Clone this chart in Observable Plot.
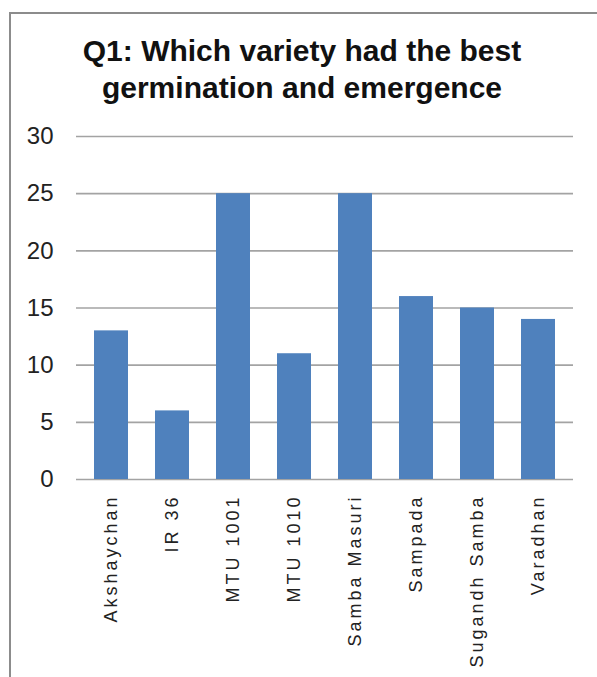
<!DOCTYPE html>
<html><head><meta charset="utf-8">
<script src="https://cdn.jsdelivr.net/npm/d3@7"></script>
<script src="https://cdn.jsdelivr.net/npm/@observablehq/plot@0.6"></script>
<style>
body{margin:0;background:#fff;font-family:"Liberation Sans",Arial,sans-serif;}
#wrap{position:relative;width:597px;height:677px;overflow:hidden;background:#fff;}
#frame{position:absolute;left:9px;top:12px;width:700px;height:800px;border:2px solid #8c8c8c;box-sizing:border-box;}
#title{position:absolute;left:0;width:604px;top:32px;text-align:center;font-weight:bold;font-size:30px;line-height:37px;color:#111;}
#chart{position:absolute;left:0;top:0;}
g[aria-label="x-axis tick label"] text{letter-spacing:3px;}
</style></head>
<body><div id="wrap"><div id="frame"></div><div id="title">Q1: Which variety had the best<br>germination and emergence</div><div id="chart"></div></div>
<script>
const varieties = ["Akshaychan","IR 36","MTU 1001","MTU 1010","Samba Masuri","Sampada","Sugandh Samba","Varadhan"];
const counts = [13, 6, 25, 11, 25, 16, 15, 14];
const yTicks = [0, 5, 10, 15, 20, 25, 30];
const data = varieties.map((v, i) => ({variety: v, count: counts[i]}));
const chart = Plot.plot({
  width: 597, height: 677,
  marginLeft: 76, marginRight: 24, marginTop: 136, marginBottom: 198,
  style: {background: "transparent", fontFamily: "'Liberation Sans', Arial, sans-serif", overflow: "visible"},
  x: {domain: varieties, paddingInner: 0.44, paddingOuter: 0.25, label: null},
  y: {domain: [0, 30], ticks: yTicks, label: null},
  marks: [
    Plot.ruleY(yTicks, {stroke: "#a3a3a3", strokeWidth: 1.6}),
    Plot.barY(data, {x: "variety", y: "count", fill: "#4F81BD"}),
    Plot.axisY({ticks: yTicks, tickSize: 0, tickPadding: 23, fontSize: 24, fill: "#222", label: null}),
    Plot.axisX({tickSize: 0, tickRotate: -90, tickPadding: 15, fontSize: 18, fill: "#222", label: null})
  ]
});
document.getElementById("chart").appendChild(chart);
</script>
</body></html>
